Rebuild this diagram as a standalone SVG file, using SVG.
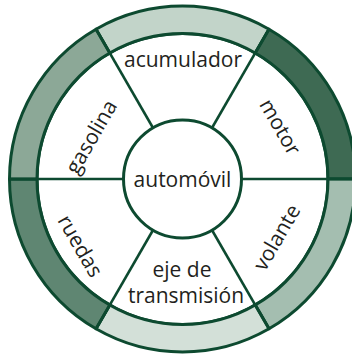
<svg xmlns="http://www.w3.org/2000/svg" width="352" height="357" viewBox="0 0 352 357">
<style>
.seg{stroke:#0d4a30;stroke-width:3;stroke-linejoin:round}
.ln{stroke:#0d4a30;stroke-width:2.6;fill:none}
.t{font-family:"Open Sans","Liberation Sans",sans-serif;font-size:21px;fill:#231f20;text-anchor:middle}
</style>
<rect width="352" height="357" fill="#ffffff"/>
<g id="base">
<circle cx="182.5" cy="179" r="145.5" fill="#ffffff" class="seg"/>
</g>
<g id="acumulador">
<path class="seg" fill="#c2d4c9" d="M269,29.18 A173,173 0 0 0 96,29.18 L109.75,53 A145.5,145.5 0 0 1 255.25,53 Z"/>
<text class="t" x="183" y="66.5">acumulador</text>
</g>
<g id="motor">
<path class="seg" fill="#3e6a53" d="M355.5,179 A173,173 0 0 0 269,29.18 L255.25,53 A145.5,145.5 0 0 1 328,179 Z"/>
<text class="t" transform="translate(280,127) rotate(60)" x="0" y="7">motor</text>
</g>
<g id="volante">
<path class="seg" fill="#a4beb0" d="M269,328.82 A173,173 0 0 0 355.5,179 L328,179 A145.5,145.5 0 0 1 255.25,305 Z"/>
<text class="t" transform="translate(277,237.5) rotate(-60)" x="0" y="7">volante</text>
</g>
<g id="eje">
<path class="seg" fill="#d3e0d8" d="M96,328.82 A173,173 0 0 0 269,328.82 L255.25,305 A145.5,145.5 0 0 1 109.75,305 Z"/>
<text class="t" x="182" y="276.5">eje de</text>
<text class="t" x="186" y="303">transmisión</text>
</g>
<g id="ruedas">
<path class="seg" fill="#5f8672" d="M9.5,179 A173,173 0 0 0 96,328.82 L109.75,305 A145.5,145.5 0 0 1 37,179 Z"/>
<text class="t" transform="translate(80,246) rotate(60)" x="0" y="7">ruedas</text>
</g>
<g id="gasolina">
<path class="seg" fill="#8ca897" d="M96,29.18 A173,173 0 0 0 9.5,179 L37,179 A145.5,145.5 0 0 1 109.75,53 Z"/>
<text class="t" transform="translate(91.5,137) rotate(-60)" x="0" y="7">gasolina</text>
</g>
<g id="connectors">
<line class="ln" x1="182.5" y1="179" x2="355.5" y2="179"/>
<line class="ln" x1="182.5" y1="179" x2="269" y2="29.18"/>
<line class="ln" x1="182.5" y1="179" x2="96" y2="29.18"/>
<line class="ln" x1="182.5" y1="179" x2="9.5" y2="179"/>
<line class="ln" x1="182.5" y1="179" x2="96" y2="328.82"/>
<line class="ln" x1="182.5" y1="179" x2="269" y2="328.82"/>
</g>
<g id="automovil">
<circle cx="182.5" cy="179" r="59" fill="#ffffff" class="seg"/>
<text class="t" x="182.5" y="186.5">automóvil</text>
</g>
</svg>
